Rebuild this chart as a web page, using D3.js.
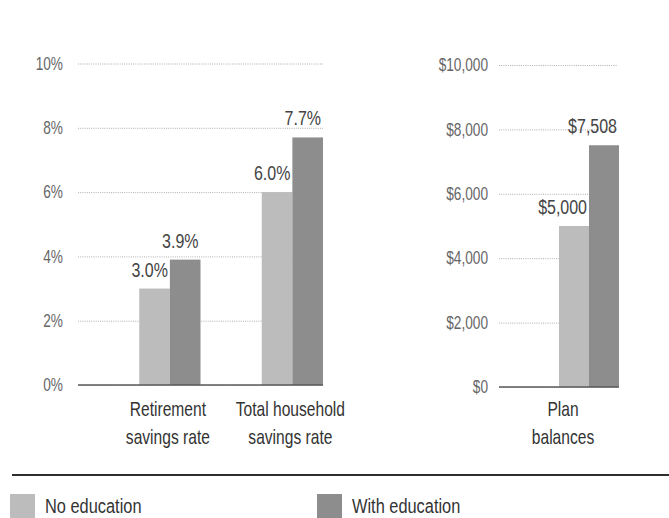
<!DOCTYPE html>
<html>
<head>
<meta charset="utf-8">
<script src="https://cdn.jsdelivr.net/npm/d3@7"></script>
<style>
  html, body { margin: 0; padding: 0; background: #fff; }
  svg { display: block; }
  text { font-family: "Liberation Sans", Arial, sans-serif; }
</style>
</head>
<body>
<svg id="chart" width="669" height="518"></svg>
<script>
// ---- Data ----
const seriesNames = ["No education", "With education"];
const rateCategories = ["Retirement savings rate", "Total household savings rate"];
const rateCategoryLines = [["Retirement", "savings rate"], ["Total household", "savings rate"]];
const rateNoEducation = [3.0, 6.0];
const rateWithEducation = [3.9, 7.7];
const rateTicks = [0, 2, 4, 6, 8, 10];

const balanceCategories = ["Plan balances"];
const balanceCategoryLines = [["Plan", "balances"]];
const balanceNoEducation = [5000];
const balanceWithEducation = [7508];
const balanceTicks = [0, 2000, 4000, 6000, 8000, 10000];

// ---- Styles ----
const colors = { "No education": "#bcbcbc", "With education": "#8d8d8d" };
const SX = 0.78; // horizontal squeeze to mimic a condensed face
const svg = d3.select("#chart");

function narrow(sel) {
  sel.each(function () {
    const t = d3.select(this);
    const x = +t.attr("x") || 0;
    t.attr("x", x / SX).attr("transform", `scale(${SX},1)`);
    t.selectAll("tspan").each(function () {
      const ts = d3.select(this);
      if (ts.attr("x") != null) ts.attr("x", (+ts.attr("x")) / SX);
    });
  });
}

function panel(opts) {
  const g = svg.append("g");
  const y = d3.scaleLinear().domain(opts.domain).range([opts.y0, opts.y1]);
  const x = d3.scaleBand().domain(opts.categories)
    .range([opts.x0, opts.x1]).paddingInner(0.5).paddingOuter(opts.outer).align(1);
  const xs = d3.scaleBand().domain(seriesNames).range([0, x.bandwidth()]).padding(0);

  // gridlines + tick labels
  const axis = d3.axisLeft(y).tickValues(opts.ticks).tickFormat(opts.tickFormat)
    .tickSizeInner(-(opts.gridEnd - opts.x0)).tickSizeOuter(0).tickPadding(opts.tickPad);
  const ax = g.append("g").attr("transform", `translate(${opts.x0},0)`).call(axis);
  ax.select(".domain").remove();
  ax.selectAll(".tick line").attr("stroke", "#9a9a9a").attr("stroke-width", 0.8)
    .attr("stroke-dasharray", "1,1.2");
  ax.selectAll(".tick text").attr("fill", "#666").attr("font-size", 17.5)
    .style("font-family", '"Liberation Sans", Arial, sans-serif');
  narrow(ax.selectAll(".tick text"));

  const rows = opts.categories.map((c, i) => ({
    cat: c,
    vals: [
      { s: seriesNames[0], v: opts.noEd[i] },
      { s: seriesNames[1], v: opts.withEd[i] }
    ]
  }));

  const grp = g.selectAll(".grp").data(rows).join("g")
    .attr("transform", d => `translate(${x(d.cat)},0)`);

  grp.selectAll("rect").data(d => d.vals).join("rect")
    .attr("x", d => xs(d.s))
    .attr("width", xs.bandwidth())
    .attr("y", d => y(d.v))
    .attr("height", d => y(0) - y(d.v))
    .attr("fill", d => colors[d.s]);

  const vals = grp.selectAll(".val").data(d => d.vals).join("text")
    .attr("class", "val")
    .attr("x", d => xs(d.s) + xs.bandwidth() - 2)
    .attr("y", d => y(d.v) - 12)
    .attr("text-anchor", "end")
    .attr("font-size", 20.5)
    .attr("fill", "#444")
    .text(d => opts.valueFormat(d.v));
  narrow(vals);

  // baseline
  g.append("line")
    .attr("x1", opts.x0).attr("x2", opts.x1)
    .attr("y1", y(0)).attr("y2", y(0))
    .attr("stroke", "#5a5a5a").attr("stroke-width", 1.6);

  // category labels
  opts.categories.forEach((c, i) => {
    const t = g.append("text")
      .attr("text-anchor", "middle")
      .attr("font-size", 20)
      .attr("fill", "#333");
    const cx = x(c) + x.bandwidth() / 2 + opts.labelDx;
    opts.lines[i].forEach((ln, j) => {
      t.append("tspan").attr("x", cx).attr("y", 416 + j * 28).text(ln);
    });
    narrow(t);
  });
}

panel({
  categories: rateCategories, lines: rateCategoryLines,
  noEd: rateNoEducation, withEd: rateWithEducation,
  domain: [0, 10], ticks: rateTicks, tickFormat: d => d + "%",
  valueFormat: v => d3.format(".1f")(v) + "%",
  y0: 385, y1: 63.5, x0: 78, x1: 323, gridEnd: 323, outer: 0.25, tickPad: 15, labelDx: -2
});

panel({
  categories: balanceCategories, lines: balanceCategoryLines,
  noEd: balanceNoEducation, withEd: balanceWithEducation,
  domain: [0, 10000], ticks: balanceTicks, tickFormat: d3.format("$,"),
  valueFormat: v => d3.format("$,")(v),
  y0: 387, y1: 65, x0: 499, x1: 619, gridEnd: 617, outer: 0.2339, tickPad: 11, labelDx: -26
});

// separator
svg.append("line").attr("x1", 12).attr("x2", 669).attr("y1", 475).attr("y2", 475)
  .attr("stroke", "#2e2e2e").attr("stroke-width", 2.2);

// legend
const legendX = [10, 317];
const lg = svg.selectAll(".lg").data(seriesNames).join("g")
  .attr("transform", (d, i) => `translate(${legendX[i]},494)`);
lg.append("rect").attr("width", 25).attr("height", 24).attr("fill", d => colors[d]);
narrow(lg.append("text").attr("x", 35).attr("y", 19).attr("font-size", 21).attr("fill", "#333").text(d => d));
</script>
</body>
</html>
